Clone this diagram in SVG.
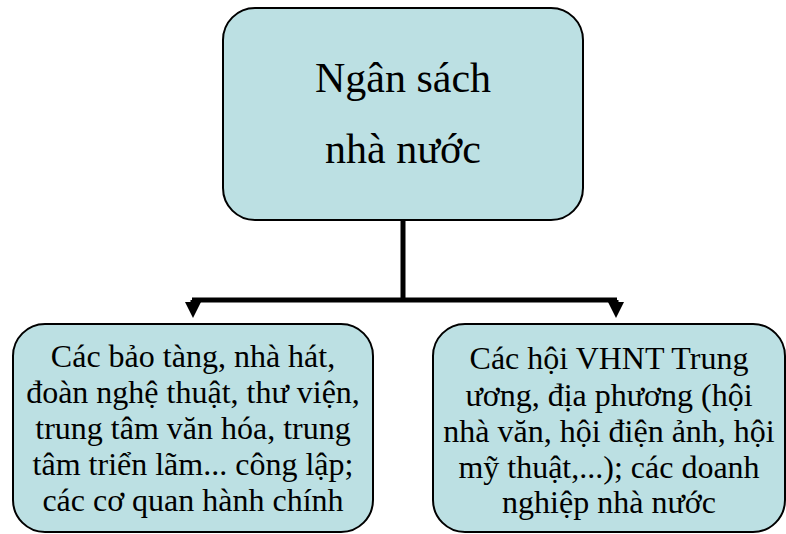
<svg xmlns="http://www.w3.org/2000/svg" width="786" height="534" viewBox="0 0 786 534">
  <style>
    .box { fill: #bce0e3; stroke: #000; stroke-width: 2; }
    .link { fill: none; stroke: #000; stroke-width: 5; }
  </style>
  <defs>
    <marker id="arrow" markerUnits="userSpaceOnUse" markerWidth="16" markerHeight="16" refX="8" refY="0" orient="auto-start-reverse" viewBox="0 -8 16 16">
      <path d="M0,-8 L16,0 L0,8 Z" fill="#000"/>
    </marker>
  </defs>

  <!-- connectors -->
  <g id="connectors">
    <path class="link" d="M403,220 V300"/>
    <path class="link" d="M192,300 H617"/>
    <path class="link" d="M193,300 V310" marker-end="url(#arrow)"/>
    <path class="link" d="M616,300 V310" marker-end="url(#arrow)"/>
  </g>

  <g id="root">
    <rect class="box" x="223" y="8" width="360" height="212" rx="32" ry="32"/>
    <text x="403" y="92" font-family="Liberation Serif" font-size="42" text-anchor="middle">Ngân sách</text>
    <text x="403" y="163" font-family="Liberation Serif" font-size="42" text-anchor="middle">nhà nước</text>
  </g>

  <g id="left">
    <rect class="box" x="13" y="324" width="360" height="208" rx="32" ry="32"/>
    <text x="193" y="367" font-family="Liberation Serif" font-size="32" text-anchor="middle">Các bảo tàng, nhà hát,</text>
    <text x="193" y="403" font-family="Liberation Serif" font-size="32" text-anchor="middle">đoàn nghệ thuật, thư viện,</text>
    <text x="193" y="439" font-family="Liberation Serif" font-size="32" text-anchor="middle">trung tâm văn hóa, trung</text>
    <text x="193" y="475" font-family="Liberation Serif" font-size="32" text-anchor="middle">tâm triển lãm... công lập;</text>
    <text x="193" y="511" font-family="Liberation Serif" font-size="32" text-anchor="middle">các cơ quan hành chính</text>
  </g>

  <g id="right">
    <rect class="box" x="433" y="324" width="352" height="208" rx="32" ry="32"/>
    <text x="609" y="369" font-family="Liberation Serif" font-size="32" text-anchor="middle">Các hội VHNT Trung</text>
    <text x="609" y="406" font-family="Liberation Serif" font-size="32" text-anchor="middle">ương, địa phương (hội</text>
    <text x="609" y="442" font-family="Liberation Serif" font-size="32" text-anchor="middle">nhà văn, hội điện ảnh, hội</text>
    <text x="609" y="478" font-family="Liberation Serif" font-size="32" text-anchor="middle">mỹ thuật,...); các doanh</text>
    <text x="609" y="513" font-family="Liberation Serif" font-size="32" text-anchor="middle">nghiệp nhà nước</text>
  </g>
</svg>
